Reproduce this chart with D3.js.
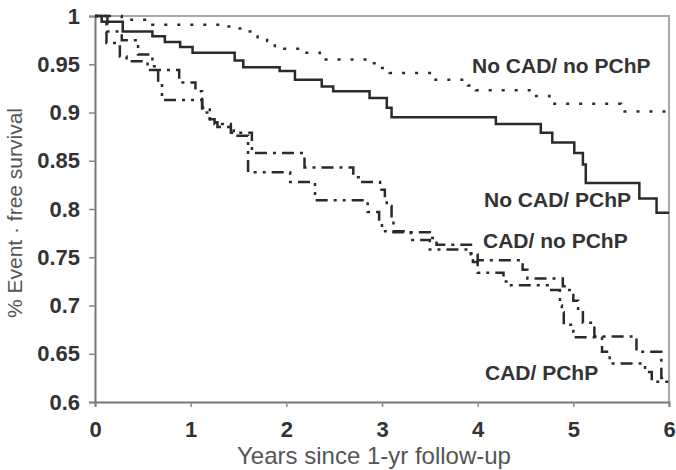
<!DOCTYPE html>
<html>
<head>
<meta charset="utf-8">
<script src="https://cdn.jsdelivr.net/npm/d3@7"></script>
<style>
  body { margin: 0; background: #fff; }
  svg { display: block; font-family: "Liberation Sans", Arial, sans-serif; }
</style>
</head>
<body>
<script>
// x ticks / y ticks
let xTicks = [0, 1, 2, 3, 4, 5, 6]
let yTicks = [0.6, 0.65, 0.7, 0.75, 0.8, 0.85, 0.9, 0.95, 1]
let yTickLabels = ["0.6", "0.65", "0.7", "0.75", "0.8", "0.85", "0.9", "0.95", "1"]

// survival steps: [years, fraction], each value holds until the next time
let noCadNoPchp = [[0, 1], [0.28, 0.996], [0.6, 0.991], [1.3, 0.989], [1.42, 0.987], [1.55, 0.984], [1.7, 0.978],
    [1.8, 0.974], [1.88, 0.969], [1.95, 0.966], [2.14, 0.962], [2.35, 0.955], [2.85, 0.951], [2.95, 0.946],
    [3.08, 0.941], [3.5, 0.934], [3.9, 0.928], [3.98, 0.923], [4.58, 0.917], [4.75, 0.909], [5.5, 0.901]]

let noCadPchp = [[0, 1], [0.07, 0.994], [0.29, 0.984], [0.6, 0.979], [0.73, 0.973], [0.89, 0.968], [1.02, 0.962],
    [1.46, 0.954], [1.55, 0.947], [1.93, 0.943], [2.09, 0.934], [2.37, 0.927], [2.49, 0.922], [2.87, 0.915],
    [3.05, 0.905], [3.1, 0.895], [4.19, 0.888], [4.66, 0.879], [4.78, 0.869], [5.01, 0.858], [5.1, 0.846],
    [5.13, 0.827], [5.69, 0.811], [5.87, 0.796]]

let cadNoPchp = [[0, 1], [0.12, 0.972], [0.26, 0.958], [0.33, 0.953], [0.55, 0.944], [0.88, 0.931], [1.05, 0.922],
    [1.12, 0.905], [1.2, 0.893], [1.25, 0.888], [1.42, 0.879], [1.64, 0.858], [2.19, 0.843], [2.7, 0.833],
    [2.78, 0.828], [2.98, 0.82], [3.03, 0.81], [3.05, 0.803], [3.1, 0.79], [3.12, 0.776], [3.5, 0.77],
    [3.57, 0.763], [3.93, 0.753], [4.0, 0.747], [4.47, 0.737], [4.52, 0.728], [4.89, 0.72], [4.93, 0.716],
    [5.0, 0.705], [5.05, 0.693], [5.1, 0.682], [5.22, 0.668], [5.66, 0.652], [5.92, 0.625]]

let cadPchp = [[0, 1], [0.13, 0.984], [0.28, 0.975], [0.45, 0.96], [0.6, 0.948], [0.66, 0.93], [0.7, 0.913],
    [1.12, 0.9], [1.2, 0.89], [1.28, 0.885], [1.45, 0.876], [1.6, 0.838], [2.04, 0.828], [2.3, 0.809],
    [2.85, 0.797], [2.97, 0.787], [3.0, 0.777], [3.3, 0.768], [3.5, 0.758], [3.9, 0.754], [3.95, 0.745],
    [4.0, 0.734], [4.27, 0.725], [4.3, 0.721], [4.75, 0.716], [4.86, 0.7], [4.88, 0.693], [4.9, 0.68],
    [5.0, 0.667], [5.3, 0.652], [5.38, 0.64], [5.75, 0.631], [5.82, 0.621]]

let seriesNames = ["No CAD/ no PChP", "No CAD/ PChP", "CAD/ no PChP", "CAD/ PChP"]

let width = 676
let height = 470
let padLeft = 95, padRight = 669, padTop = 16, padBottom = 402

let xScale = d3.scaleLinear().domain([0, 6]).range([padLeft, padRight])
let yScale = d3.scaleLinear().domain([0.6, 1]).range([padBottom, padTop])

let svg = d3.select("body").append("svg")
    .attr("width", width)
    .attr("height", height)

// frame on top and right
svg.append("path")
    .attr("d", "M" + padLeft + "," + padTop + "H" + padRight + "V" + padBottom)
    .attr("fill", "none")
    .attr("stroke", "#a8a8a8")
    .attr("stroke-width", 2)

// y axis
let yAxis = d3.axisLeft(yScale)
    .tickValues(yTicks)
    .tickFormat((d, i) => yTickLabels[i])
    .tickSize(6)
    .tickPadding(9)
let gy = svg.append("g")
    .attr("transform", "translate(" + padLeft + ",0)")
    .call(yAxis)

// x axis
let xAxis = d3.axisBottom(xScale)
    .tickValues(xTicks)
    .tickFormat(d3.format("d"))
    .tickSize(5)
    .tickPadding(14)
let gx = svg.append("g")
    .attr("transform", "translate(0," + padBottom + ")")
    .call(xAxis)

for (let g of [gx, gy]) {
    g.select(".domain").attr("stroke", "#777").attr("stroke-width", 2)
    g.selectAll(".tick line").attr("stroke", "#888").attr("stroke-width", 1.5)
    g.selectAll(".tick text")
        .attr("fill", "#333")
        .style("font-size", "22px")
        .style("font-weight", "bold")
        .style("font-family", "'Liberation Sans', Arial, sans-serif")
}

// curves
let line = d3.line()
    .x(d => xScale(d[0]))
    .y(d => yScale(d[1]))
    .curve(d3.curveStepAfter)

let allSeries = [noCadNoPchp, noCadPchp, cadNoPchp, cadPchp]
let dashes = ["3,10", null, "12,6,3,6", "3,6,12,6,3,6"]

allSeries.forEach((s, i) => {
    let pts = s.concat([[6, s[s.length - 1][1]]])
    svg.append("path")
        .datum(pts)
        .attr("d", line)
        .attr("fill", "none")
        .attr("stroke", "#2a2a2a")
        .attr("stroke-width", 2.5)
        .attr("stroke-dasharray", dashes[i])
})

// curve labels
let labelX = [472, 484, 483, 485]
let labelY = [73, 207, 248, 380]
seriesNames.forEach((name, i) => {
    svg.append("text")
        .attr("x", labelX[i])
        .attr("y", labelY[i])
        .attr("fill", "#333")
        .style("font-size", "21px")
        .style("font-weight", "bold")
        .text(name)
})

// axis titles
svg.append("text")
    .attr("x", (padLeft + padRight) / 2 - 8)
    .attr("y", 464)
    .attr("text-anchor", "middle")
    .attr("fill", "#555")
    .style("font-size", "24px")
    .text("Years since 1-yr follow-up")

svg.append("text")
    .attr("x", -213)
    .attr("y", 22)
    .attr("transform", "rotate(-90)")
    .attr("text-anchor", "middle")
    .attr("fill", "#555")
    .style("font-size", "21px")
    .text("% Event · free survival")
</script>
</body>
</html>
